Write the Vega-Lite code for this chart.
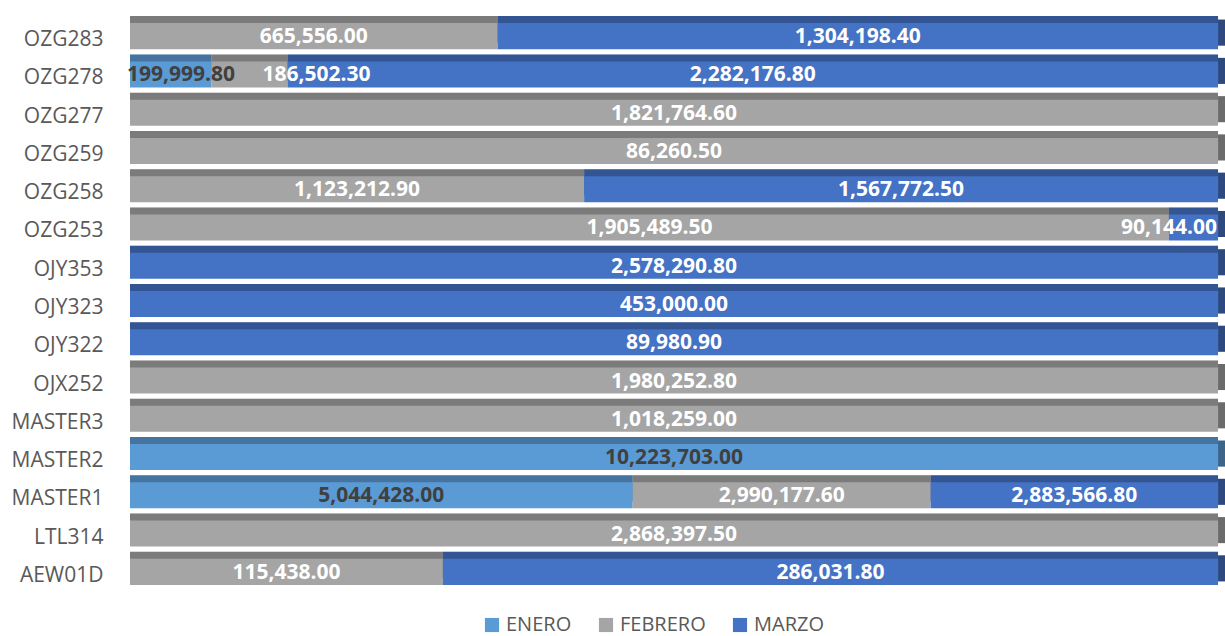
{
  "$schema": "https://vega.github.io/schema/vega-lite/v6.json",
  "width": 1095,
  "height": 574,
  "autosize": {"type": "none"},
  "padding": {"left": 130, "top": 17, "right": 0, "bottom": 45},
  "background": "white",
  "config": {
    "view": {"stroke": null},
    "font": "Open Sans"
  },
  "data": {
    "values": [
      {"cat": "OZG283", "mes": "FEBRERO", "v": 665556.00},
      {"cat": "OZG283", "mes": "MARZO", "v": 1304198.40},
      {"cat": "OZG278", "mes": "ENERO", "v": 199999.80},
      {"cat": "OZG278", "mes": "FEBRERO", "v": 186502.30},
      {"cat": "OZG278", "mes": "MARZO", "v": 2282176.80},
      {"cat": "OZG277", "mes": "FEBRERO", "v": 1821764.60},
      {"cat": "OZG259", "mes": "FEBRERO", "v": 86260.50},
      {"cat": "OZG258", "mes": "FEBRERO", "v": 1123212.90},
      {"cat": "OZG258", "mes": "MARZO", "v": 1567772.50},
      {"cat": "OZG253", "mes": "FEBRERO", "v": 1905489.50},
      {"cat": "OZG253", "mes": "MARZO", "v": 90144.00},
      {"cat": "OJY353", "mes": "MARZO", "v": 2578290.80},
      {"cat": "OJY323", "mes": "MARZO", "v": 453000.00},
      {"cat": "OJY322", "mes": "MARZO", "v": 89980.90},
      {"cat": "OJX252", "mes": "FEBRERO", "v": 1980252.80},
      {"cat": "MASTER3", "mes": "FEBRERO", "v": 1018259.00},
      {"cat": "MASTER2", "mes": "ENERO", "v": 10223703.00},
      {"cat": "MASTER1", "mes": "ENERO", "v": 5044428.00},
      {"cat": "MASTER1", "mes": "FEBRERO", "v": 2990177.60},
      {"cat": "MASTER1", "mes": "MARZO", "v": 2883566.80},
      {"cat": "LTL314", "mes": "FEBRERO", "v": 2868397.50},
      {"cat": "AEW01D", "mes": "FEBRERO", "v": 115438.00},
      {"cat": "AEW01D", "mes": "MARZO", "v": 286031.80}
    ]
  },
  "transform": [
    {"stack": "v", "groupby": ["cat"], "offset": "normalize", "sort": [{"field": "mes", "order": "ascending"}], "as": ["x0", "x1"]}
  ],
  "encoding": {
    "y": {
      "field": "cat",
      "type": "nominal",
      "sort": "descending",
      "scale": {"paddingInner": 0.32, "paddingOuter": 0.16},
      "axis": {
        "title": null,
        "domain": false,
        "ticks": false,
        "labelFont": "Open Sans",
        "labelFontSize": 21,
        "labelColor": "#595959",
        "labelPadding": 27,
        "labelOffset": 4
      }
    }
  },
  "layer": [
    {
      "mark": {"type": "bar", "yOffset": -7},
      "encoding": {
        "x": {"field": "x0", "type": "quantitative", "scale": {"domain": [0, 1.0064], "nice": false}, "axis": null},
        "x2": {"field": "x1"},
        "color": {
          "field": "mes",
          "type": "nominal",
          "scale": {"domain": ["ENERO", "FEBRERO", "MARZO"], "range": ["#5B9BD5", "#A5A5A5", "#4472C4"]},
          "legend": {
            "title": null,
            "orient": "none",
            "legendX": 352,
            "legendY": 598,
            "direction": "horizontal",
            "symbolType": "square",
            "symbolSize": 200,
            "symbolStrokeWidth": 0,
            "labelFont": "Open Sans",
            "labelFontSize": 20,
            "labelColor": "#595959",
            "columnPadding": 24
          }
        }
      }
    },
    {
      "mark": {"type": "bar", "yOffset": -7, "color": "black", "opacity": 0.25},
      "encoding": {
        "x": {"field": "x0", "type": "quantitative"},
        "x2": {"field": "x1"}
      }
    },
    {
      "transform": [{"filter": "datum.x1 > 0.9999"}],
      "mark": {"type": "bar", "yOffset": -3.5},
      "encoding": {
        "x": {"datum": 1, "type": "quantitative"},
        "x2": {"datum": 1.0064},
        "color": {"field": "mes", "type": "nominal"}
      }
    },
    {
      "transform": [{"filter": "datum.x1 > 0.9999"}],
      "mark": {"type": "bar", "yOffset": -3.5, "color": "black", "opacity": 0.35},
      "encoding": {
        "x": {"datum": 1, "type": "quantitative"},
        "x2": {"datum": 1.0064}
      }
    },
    {
      "mark": {"type": "bar"},
      "encoding": {
        "x": {"field": "x0", "type": "quantitative"},
        "x2": {"field": "x1"},
        "color": {"field": "mes", "type": "nominal"}
      }
    },
    {
      "transform": [
        {"filter": "datum.cat !== 'OZG278' || datum.mes === 'MARZO'"},
        {"filter": "!(datum.cat === 'OZG253' && datum.mes === 'MARZO')"},
        {"fold": ["x0", "x1"], "as": ["k", "pos"]},
        {"aggregate": [{"op": "mean", "field": "pos", "as": "mid"}, {"op": "max", "field": "v", "as": "v"}], "groupby": ["cat", "mes"]}
      ],
      "mark": {"type": "text", "font": "Open Sans", "fontWeight": "bold", "fontSize": 21, "baseline": "middle", "dy": 1},
      "encoding": {
        "x": {"field": "mid", "type": "quantitative"},
        "text": {"field": "v", "type": "quantitative", "format": ",.2f"},
        "color": {
          "condition": {"test": "datum.mes === 'ENERO'", "value": "#404040"},
          "value": "white"
        }
      }
    },
    {
      "transform": [{"filter": "datum.cat === 'OZG278' && datum.mes === 'ENERO'"}],
      "mark": {"type": "text", "font": "Open Sans", "fontWeight": "bold", "fontSize": 21, "baseline": "middle", "dy": 1, "align": "left", "dx": -3, "color": "#404040"},
      "encoding": {
        "x": {"field": "x0", "type": "quantitative"},
        "text": {"field": "v", "type": "quantitative", "format": ",.2f"}
      }
    },
    {
      "transform": [{"filter": "datum.cat === 'OZG278' && datum.mes === 'FEBRERO'"}],
      "mark": {"type": "text", "font": "Open Sans", "fontWeight": "bold", "fontSize": 21, "baseline": "middle", "dy": 1, "align": "left", "dx": -25, "color": "white"},
      "encoding": {
        "x": {"field": "x1", "type": "quantitative"},
        "text": {"field": "v", "type": "quantitative", "format": ",.2f"}
      }
    },
    {
      "transform": [{"filter": "datum.cat === 'OZG253' && datum.mes === 'MARZO'"}],
      "mark": {"type": "text", "font": "Open Sans", "fontWeight": "bold", "fontSize": 21, "baseline": "middle", "dy": 1, "align": "right", "dx": -1, "color": "white"},
      "encoding": {
        "x": {"field": "x1", "type": "quantitative"},
        "text": {"field": "v", "type": "quantitative", "format": ",.2f"}
      }
    }
  ]
}
